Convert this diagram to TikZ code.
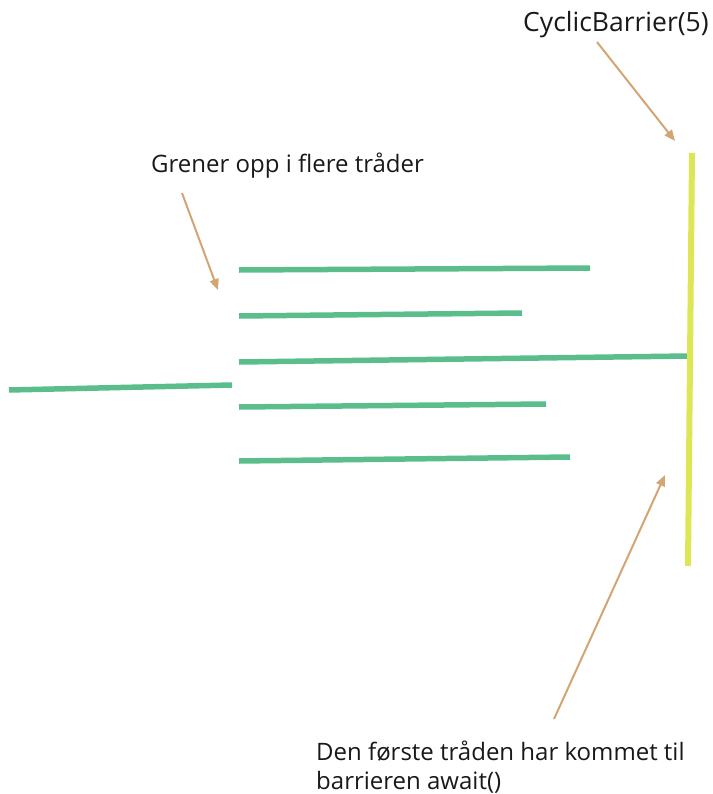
\documentclass[tikz,border=0pt]{standalone}
\usepackage{fontspec}
\setmainfont{Open Sans}
\usetikzlibrary{arrows.meta}
\definecolor{thread}{HTML}{5BBD8B}
\definecolor{barrier}{HTML}{DDE655}
\definecolor{pointer}{HTML}{D4A574}
\begin{document}
\begin{tikzpicture}[x=1bp,y=-1bp,
  threadline/.style={draw=thread,line width=5.5bp},
  barrierline/.style={draw=barrier,line width=6bp},
  pointerarrow/.style={draw=pointer,line width=2bp,-{Triangle[length=11bp,width=9bp]}},
  label/.style={font=\fontsize{24bp}{29bp}\selectfont,inner sep=0pt,text=black!90},
  biglabel/.style={font=\fontsize{26.5bp}{32bp}\selectfont,inner sep=0pt,text=black!90}]
\useasboundingbox (0,0) rectangle (713,794);
% labels
\node[biglabel,anchor=base west] (cb) at (523,32) {CyclicBarrier(5)};
\node[label,anchor=base west] (gr) at (151,172) {Grener opp i flere tråder};
\node[label,anchor=base west,align=left] (df) at (316,789) {Den første tråden har kommet til\\barrieren await()};
% thread lines
\coordinate (m0a) at (9,390);   \coordinate (m0b) at (232,385);
\coordinate (t1a) at (239,270); \coordinate (t1b) at (590,268);
\coordinate (t2a) at (239,316); \coordinate (t2b) at (522,313);
\coordinate (t3a) at (239,362); \coordinate (t3b) at (688,356);
\coordinate (t4a) at (239,407); \coordinate (t4b) at (546,404);
\coordinate (t5a) at (239,461); \coordinate (t5b) at (570,457);
\coordinate (ba) at (692,153);  \coordinate (bb) at (688,566);
\draw[threadline] (m0a) -- (m0b);
\draw[threadline] (t1a) -- (t1b);
\draw[threadline] (t2a) -- (t2b);
\draw[threadline] (t3a) -- (t3b);
\draw[threadline] (t4a) -- (t4b);
\draw[threadline] (t5a) -- (t5b);
\draw[barrierline] (ba) -- (bb);
% pointers
\coordinate (p1s) at (597,42);  \coordinate (p1e) at (675,141);
\coordinate (p2s) at (182,193); \coordinate (p2e) at (218,290);
\coordinate (p3s) at (554,719); \coordinate (p3e) at (665,475);
\draw[pointerarrow] (p1s) -- (p1e);
\draw[pointerarrow] (p2s) -- (p2e);
\draw[pointerarrow] (p3s) -- (p3e);
\end{tikzpicture}
\end{document}
